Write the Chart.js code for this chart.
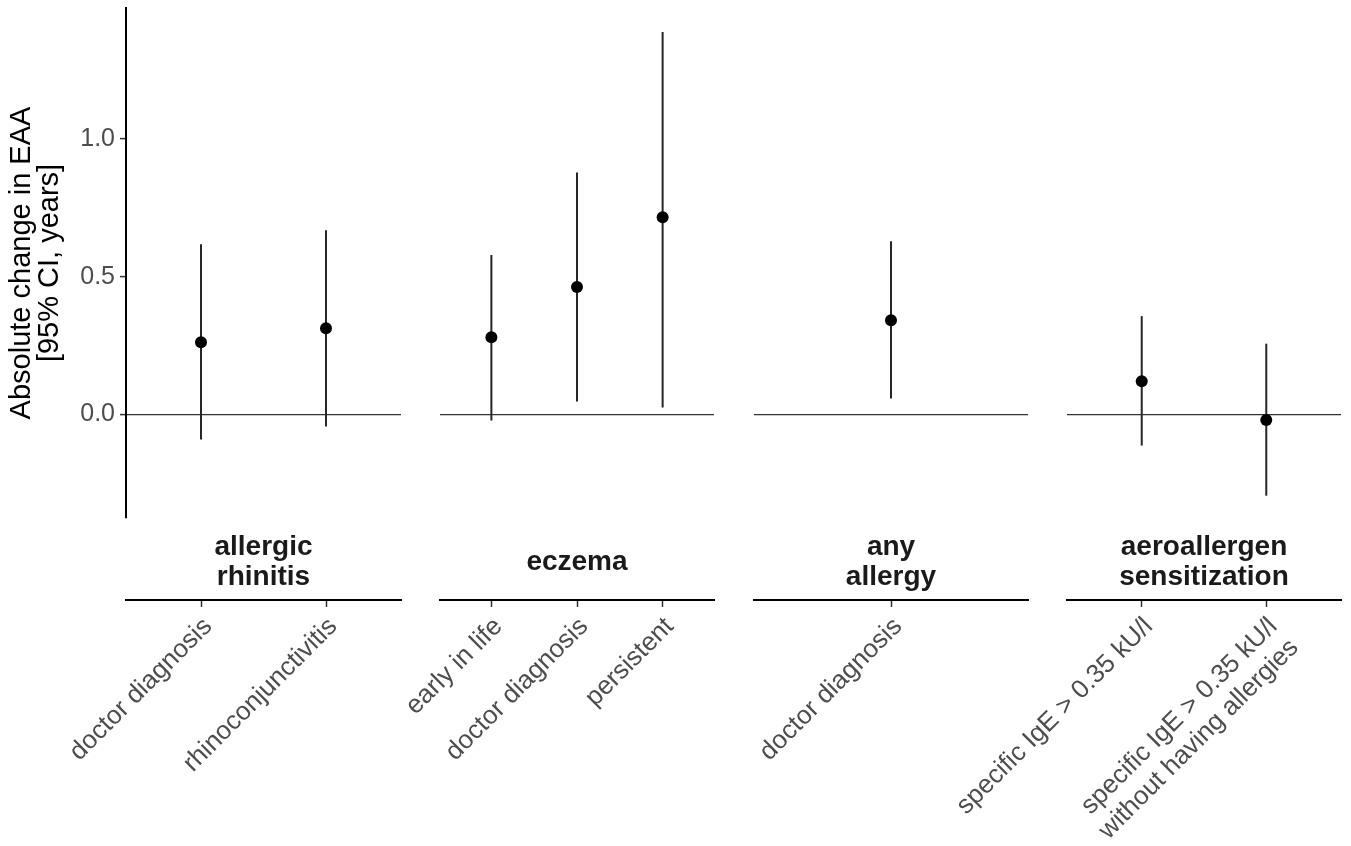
<!DOCTYPE html>
<html>
<head>
<meta charset="utf-8">
<script src="https://cdn.jsdelivr.net/npm/chart.js@4"></script>
<style>
  html, body { margin: 0; background: #fff; }
  #wrap { position: relative; width: 1351px; height: 846px; }
  #wrap canvas { position: absolute; left: 0; top: 0; }
</style>
</head>
<body>
<div id="wrap">
  <canvas id="p0" width="1351" height="846"></canvas>
  <canvas id="p1" width="1351" height="846"></canvas>
  <canvas id="p2" width="1351" height="846"></canvas>
  <canvas id="p3" width="1351" height="846"></canvas>
</div>
<script>
// facet strips (one per panel)
const groups = [['allergic', 'rhinitis'], ['eczema'], ['any', 'allergy'], ['aeroallergen', 'sensitization']];
// outcomes inside each panel
const outcomes = [
    ['doctor diagnosis', 'rhinoconjunctivitis'],
    ['early in life', 'doctor diagnosis', 'persistent'],
    ['doctor diagnosis'],
    ['specific IgE > 0.35 kU/l', ['specific IgE > 0.35 kU/l', 'without having allergies']]
];
// estimates and 95% CI
const estimate = [[0.262, 0.313], [0.28, 0.463, 0.716], [0.342], [0.121, -0.02]];
const lower = [[-0.091, -0.044], [-0.022, 0.047, 0.025], [0.058], [-0.113, -0.295]];
const upper = [[0.618, 0.669], [0.579, 0.879, 1.389], [0.629], [0.357, 0.257]];
const yTicks = [0, 0.5, 1.0];

const FONT = "'Liberation Sans', Arial, sans-serif";
const W = 1351, H = 846;
const panelLeft = [126, 440, 754, 1067];
const panelRight = [401, 714, 1028, 1341];
const plotTop = 8, plotBottom = 518, axisLine = 600;
const stripLine = 30, stripMid = 562;

function makePanel(i) {
    const n = outcomes[i].length;
    const first = i === 0;

    new Chart(document.getElementById('p' + i), {
        type: 'bar',
        data: {
            datasets: [
                {
                    type: 'scatter',
                    data: estimate[i].map((v, j) => ({ x: j + 1, y: v })),
                    pointRadius: 6,
                    pointBackgroundColor: '#000',
                    pointBorderWidth: 0,
                    order: 0
                },
                {
                    type: 'bar',
                    data: lower[i].map((v, j) => ({ x: j + 1, y: [v, upper[i][j]] })),
                    backgroundColor: '#262626',
                    borderWidth: 0,
                    inflateAmount: 0,
                    barThickness: 2,
                    order: 1
                }
            ]
        },
        options: {
            responsive: false,
            animation: false,
            events: [],
            layout: {
                padding: { left: first ? 0 : panelLeft[i], right: W - panelRight[i], top: plotTop, bottom: 0 }
            },
            plugins: { legend: { display: false }, tooltip: { enabled: false } },
            scales: {
                x: {
                    type: 'linear',
                    position: 'bottom',
                    weight: 1,
                    offset: false,
                    min: 0.4,
                    max: n + 0.6,
                    afterBuildTicks: s => { s.ticks = outcomes[i].map((_, j) => ({ value: j + 1 })); },
                    afterFit: s => { s.height = H - axisLine; },
                    grid: { display: true, drawOnChartArea: false, offset: false, tickLength: 7, tickColor: '#333', tickWidth: 1.5 },
                    border: { display: true, color: '#000', width: 2 },
                    ticks: {
                        autoSkip: false,
                        minRotation: 45,
                        maxRotation: 45,
                        padding: 5,
                        labelOffset: 7,
                        color: '#4d4d4d',
                        font: { family: FONT, size: 26, lineHeight: 1.15 },
                        callback: v => outcomes[i][v - 1]
                    }
                },
                strip: {
                    type: 'linear',
                    axis: 'x',
                    position: 'bottom',
                    weight: 0,
                    afterFit: s => { s.height = axisLine - plotBottom; },
                    grid: { display: false },
                    border: { display: false },
                    ticks: { display: false },
                    title: {
                        display: true,
                        text: groups[i],
                        color: '#1a1a1a',
                        font: { family: FONT, size: 28, weight: 'bold', lineHeight: stripLine / 28 },
                        padding: { top: 0, bottom: (axisLine - stripMid) - stripLine * groups[i].length / 2 }
                    }
                },
                y: {
                    type: 'linear',
                    position: 'left',
                    min: -0.376,
                    max: 1.476,
                    afterBuildTicks: s => { s.ticks = yTicks.map(v => ({ value: v })); },
                    afterFit: s => {
                        s.width = first ? panelLeft[0] : 0;
                        s.paddingTop = 0;
                        s.paddingBottom = 0;
                    },
                    grid: {
                        display: true,
                        drawTicks: first,
                        tickLength: 6,
                        tickColor: '#333',
                        tickWidth: 1.5,
                        lineWidth: 1.2,
                        color: ctx => (ctx.tick && ctx.tick.value === 0 ? '#333' : 'rgba(0,0,0,0)')
                    },
                    border: { display: first, color: '#000', width: 2 },
                    ticks: {
                        display: first,
                        padding: 5,
                        color: '#4d4d4d',
                        font: { family: FONT, size: 25 },
                        callback: v => v.toFixed(1)
                    },
                    title: {
                        display: first,
                        text: ['Absolute change in EAA', '[95% CI, years]'],
                        color: '#000',
                        font: { family: FONT, size: 29, lineHeight: 0.97 },
                        padding: { top: 8, bottom: 0 }
                    }
                }
            }
        }
    });
}

document.addEventListener('DOMContentLoaded', () => {
    outcomes.forEach((_, i) => makePanel(i));
});
</script>
</body>
</html>
